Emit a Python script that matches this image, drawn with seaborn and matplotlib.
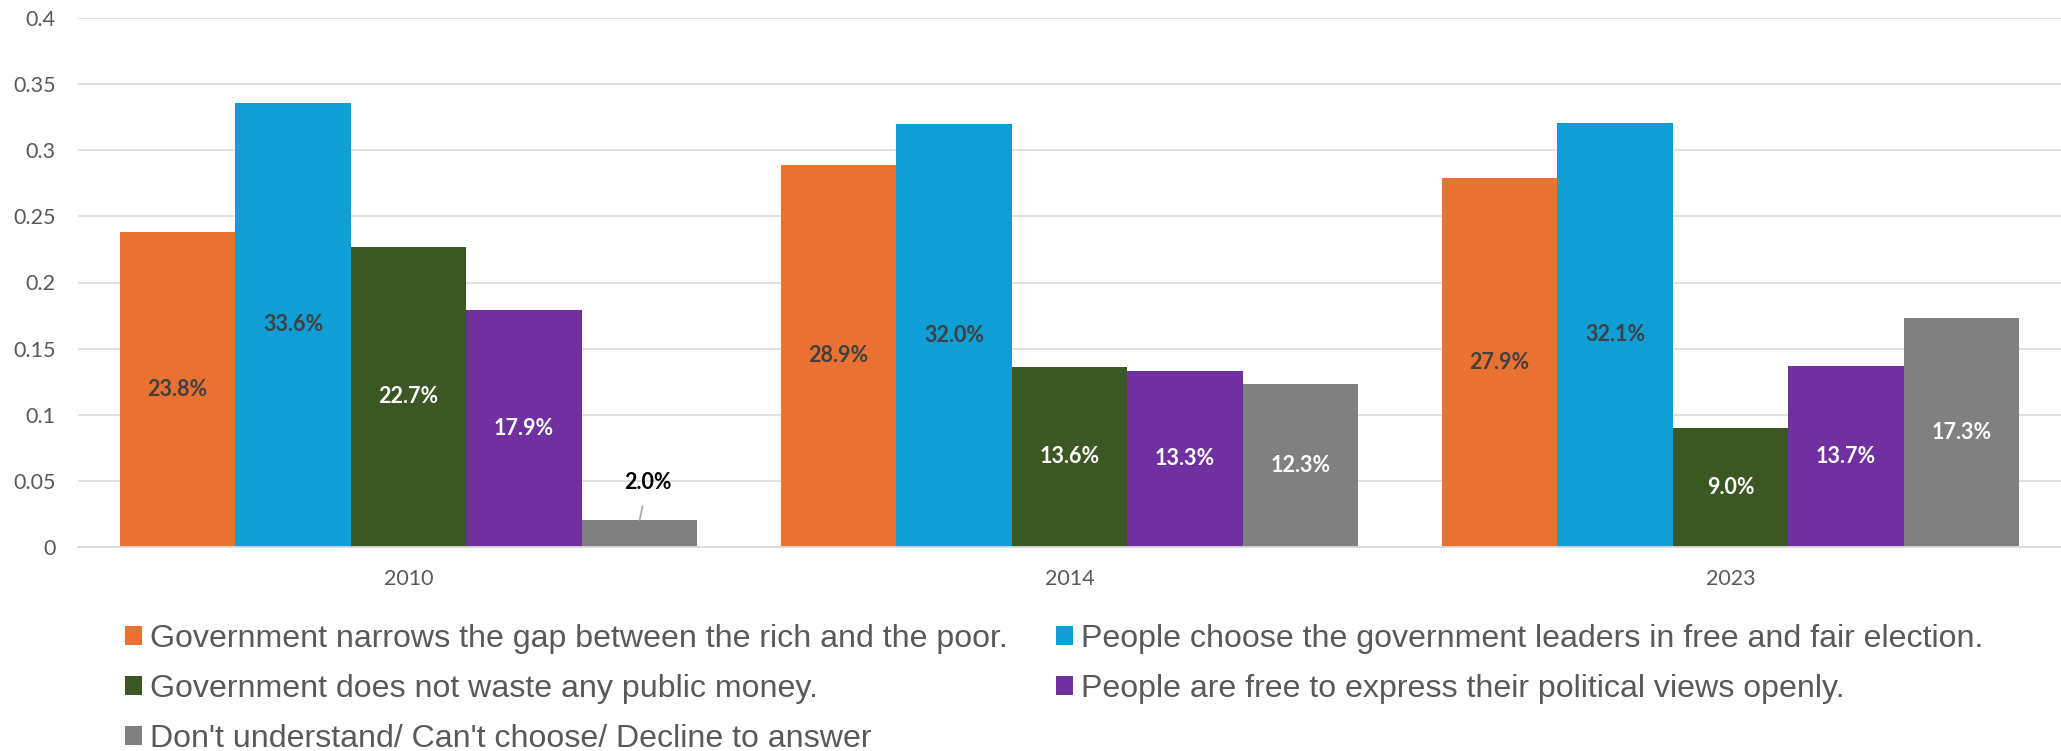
import matplotlib
matplotlib.use("Agg")
import matplotlib.pyplot as plt
import seaborn as sns
import pandas as pd
from matplotlib.patches import Patch
from matplotlib.ticker import FuncFormatter, MultipleLocator

# Survey years (x categories)
years = ["2010", "2014", "2023"]

# Answer options (hue levels)
series = [
    "Government narrows the gap between the rich and the poor.",
    "People choose the government leaders in free and fair election.",
    "Government does not waste any public money.",
    "People are free to express their political views openly.",
    "Don't understand/ Can't choose/ Decline to answer",
]

# Share of respondents per option, by year
gap_rich_poor = [0.238, 0.289, 0.279]
free_fair_election = [0.336, 0.320, 0.321]
no_waste_money = [0.227, 0.136, 0.090]
free_expression = [0.179, 0.133, 0.137]
no_answer = [0.020, 0.123, 0.173]

colors = ["#E97132", "#0F9ED5", "#3A5724", "#7030A0", "#808080"]
label_colors = ["#404040", "#404040", "white", "white", "white"]

values = [gap_rich_poor, free_fair_election, no_waste_money, free_expression, no_answer]

rows = []
for name, vals in zip(series, values):
    for yr, v in zip(years, vals):
        rows.append({"year": yr, "share": v, "option": name})
df = pd.DataFrame(rows)

sns.set_theme(style="white")
plt.rcParams["font.family"] = ["Lato", "DejaVu Sans"]

fig = plt.figure(figsize=(20.61, 7.51), dpi=100)
ax = fig.add_axes([78 / 2061, 204.3 / 751, (2061 - 78) / 2061, (546.7 - 18.3) / 751])

sns.barplot(
    data=df, x="year", y="share", hue="option",
    order=years, hue_order=series, palette=colors,
    width=0.874, gap=0, saturation=1, legend=False,
    linewidth=0, ax=ax,
)

ax.set_xlim(-0.5, 2.5)
ax.set_ylim(0, 0.4)
ax.yaxis.set_major_locator(MultipleLocator(0.05))
ax.yaxis.set_major_formatter(FuncFormatter(lambda v, p: f"{round(v, 2):g}"))
ax.set_xlabel("")
ax.set_ylabel("")

ax.yaxis.grid(True, color="#D9D9D9", linewidth=1.1)
ax.set_axisbelow(True)
for side in ["left", "right", "top"]:
    ax.spines[side].set_visible(False)
ax.spines["bottom"].set_color("#D9D9D9")
ax.spines["bottom"].set_linewidth(1.3)

ax.tick_params(axis="both", length=0, labelsize=15.5, labelcolor="#595959", pad=16)

# Value labels: centred inside each bar, small bars get a label above with a leader line
for i, cont in enumerate(ax.containers):
    for j, bar in enumerate(cont):
        v = values[i][j]
        cx = bar.get_x() + bar.get_width() / 2
        txt = f"{v * 100:.1f}%"
        if v < 0.05:
            ax.annotate(
                txt, xy=(cx, v), xytext=(cx + 0.012, v + 0.0284),
                ha="center", va="center", fontsize=15.5, fontweight="bold",
                color="black",
                arrowprops=dict(arrowstyle="-", color="#A6A6A6", lw=1.2,
                                shrinkA=7, shrinkB=0),
            )
        else:
            ax.text(cx, v / 2, txt, ha="center", va="center", fontsize=15.5,
                    fontweight="bold", color=label_colors[i])

# Legend: two columns filled row by row
handles = [Patch(facecolor=c, edgecolor="none") for c in colors]
order = [0, 2, 4, 1, 3]
fig.legend(
    [handles[k] for k in order], [series[k] for k in order],
    loc="upper left", bbox_to_anchor=(125 / 2061, 1 - 624 / 751), ncol=2,
    frameon=False, prop={"family": "Liberation Sans", "size": 23.1},
    labelcolor="#595959", handlelength=0.53, handleheight=0.53,
    handletextpad=0.25, columnspacing=1.5, labelspacing=0.62,
    borderpad=0, borderaxespad=0,
)

fig.savefig("out.png", dpi=100)
